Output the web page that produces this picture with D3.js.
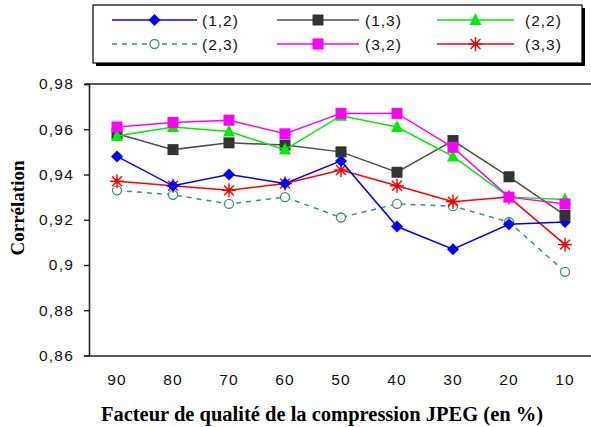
<!DOCTYPE html>
<html><head><meta charset="utf-8">
<script src="https://cdn.jsdelivr.net/npm/d3@7/dist/d3.min.js"></script>
<style>body{margin:0;background:#fff}svg{display:block}</style>
</head><body>
<script>
const categories = ["90","80","70","60","50","40","30","20","10"];
const yTicks = [0.86,0.88,0.9,0.92,0.94,0.96,0.98];
const s12 = [0.948,0.935,0.940,0.936,0.946,0.917,0.907,0.918,0.919];
const s13 = [0.958,0.951,0.954,0.953,0.950,0.941,0.955,0.939,0.922];
const s22 = [0.957,0.961,0.959,0.951,0.966,0.961,0.948,0.930,0.929];
const s23 = [0.933,0.931,0.927,0.930,0.921,0.927,0.926,0.919,0.897];
const s32 = [0.961,0.963,0.964,0.958,0.967,0.967,0.952,0.930,0.927];
const s33 = [0.937,0.935,0.933,0.936,0.942,0.935,0.928,0.930,0.909];
const seriesNames = ["(1,2)","(1,3)","(2,2)","(2,3)","(3,2)","(3,3)"];

const series = [
  {name:seriesNames[0], values:s12, color:"#0000ff", marker:"diamond", dash:null},
  {name:seriesNames[1], values:s13, color:"#333333", line:"#4d4d4d", marker:"square", dash:null},
  {name:seriesNames[2], values:s22, color:"#00ee00", marker:"triangle", dash:null},
  {name:seriesNames[3], values:s23, color:"#339966", marker:"circle", dash:"5,5"},
  {name:seriesNames[4], values:s32, color:"#ff00ff", marker:"square", dash:null},
  {name:seriesNames[5], values:s33, color:"#ff0000", marker:"star", dash:null}
];

const W=591,H=427;
const svg=d3.select("body").append("svg").attr("width",W).attr("height",H);
const pL=89, pT=84, pB=355.5, pR=593;
const x=d3.scaleBand().domain(categories).range([pL,pR]);
const y=d3.scaleLinear().domain([0.86,0.98]).range([pB,pT]);
const labelFont="Liberation Sans, Arial, sans-serif";

// top border
svg.append("line").attr("x1",pL-4).attr("x2",W).attr("y1",pT).attr("y2",pT)
  .attr("stroke","#222").attr("stroke-width",1.6);

// y axis
const ya=svg.append("g").attr("transform",`translate(${pL},0)`)
  .call(d3.axisLeft(y).tickValues(yTicks).tickSize(5).tickPadding(10)
    .tickFormat(d=>d3.format(".2~f")(d).replace(".",",")));
ya.select(".domain").attr("stroke","#222").attr("stroke-width",1.6);
ya.selectAll(".tick line").attr("stroke","#222").attr("stroke-width",1.4);
ya.selectAll("text").attr("font-family",labelFont).attr("font-size",15.5).attr("letter-spacing",1.2).attr("fill","#111");

// x axis
const xa=svg.append("g").attr("transform",`translate(0,${pB})`)
  .call(d3.axisBottom(x).tickSize(0).tickPadding(18));
xa.select(".domain").attr("stroke","#222").attr("stroke-width",1.6);
xa.selectAll("text").attr("font-family",labelFont).attr("font-size",15.5).attr("letter-spacing",1.2).attr("fill","#111");

function drawMarker(g,type,cx,cy,color){
  if(type==="diamond"){
    g.append("path").attr("d",`M${cx},${cy-6}L${cx+6},${cy}L${cx},${cy+6}L${cx-6},${cy}Z`).attr("fill",color);
  } else if(type==="square"){
    g.append("rect").attr("x",cx-5.5).attr("y",cy-5.5).attr("width",11).attr("height",11).attr("fill",color);
  } else if(type==="triangle"){
    g.append("path").attr("d",`M${cx},${cy-7}L${cx+6},${cy+5}L${cx-6},${cy+5}Z`).attr("fill",color);
  } else if(type==="circle"){
    g.append("circle").attr("cx",cx).attr("cy",cy).attr("r",4.5).attr("fill","#fff").attr("stroke",color).attr("stroke-width",1.3);
  } else if(type==="star"){
    const r=7;
    [0,45,90,135].forEach(a=>{
      const t=a*Math.PI/180;
      g.append("line").attr("x1",cx-r*Math.cos(t)).attr("y1",cy-r*Math.sin(t))
        .attr("x2",cx+r*Math.cos(t)).attr("y2",cy+r*Math.sin(t))
        .attr("stroke",color).attr("stroke-width",1.4);
    });
    g.append("circle").attr("cx",cx).attr("cy",cy).attr("r",2.5).attr("fill",color);
  }
}

const line=d3.line().x((d,i)=>x(categories[i])+x.bandwidth()/2).y(d=>y(d));
const order=[3,5,0,1,2,4];
order.forEach(k=>{
  const s=series[k];
  const g=svg.append("g");
  g.append("path").datum(s.values).attr("d",line).attr("fill","none")
    .attr("stroke",s.line||s.color).attr("stroke-width",1.5)
    .attr("stroke-dasharray",s.dash);
  s.values.forEach((v,i)=>drawMarker(g,s.marker,x(categories[i])+x.bandwidth()/2,y(v),s.color));
});

// legend
const lg=svg.append("g");
lg.append("rect").attr("x",96).attr("y",8).attr("width",489).attr("height",58).attr("fill","#000");
lg.append("rect").attr("x",93).attr("y",5).attr("width",489).attr("height",58).attr("fill","#fff").attr("stroke","#000").attr("stroke-width",1.2);
const cols=[[112,197,202],[277,359,365],[437,514,525]];
const rows=[20,44];
series.forEach((s,i)=>{
  const c=cols[i%3], ry=rows[Math.floor(i/3)];
  lg.append("line").attr("x1",c[0]).attr("x2",c[1]).attr("y1",ry).attr("y2",ry)
    .attr("stroke",s.line||s.color).attr("stroke-width",1.5).attr("stroke-dasharray",s.dash);
  drawMarker(lg,s.marker,(c[0]+c[1])/2,ry,s.color);
  lg.append("text").attr("x",c[2]).attr("y",ry+6).text(s.name)
    .attr("font-family",labelFont).attr("font-size",15.5).attr("letter-spacing",1).attr("fill","#111");
});

// titles
svg.append("text").attr("transform","translate(24,208) rotate(-90)").attr("text-anchor","middle")
  .attr("font-family","Liberation Serif, Times New Roman, serif").attr("font-weight","bold").attr("font-size",19)
  .text("Corrélation");
svg.append("text").attr("x",322).attr("y",421).attr("text-anchor","middle")
  .attr("font-family","Liberation Serif, Times New Roman, serif").attr("font-weight","bold").attr("font-size",20.5)
  .text("Facteur de qualité de la compression JPEG (en %)");
</script>
</body></html>
